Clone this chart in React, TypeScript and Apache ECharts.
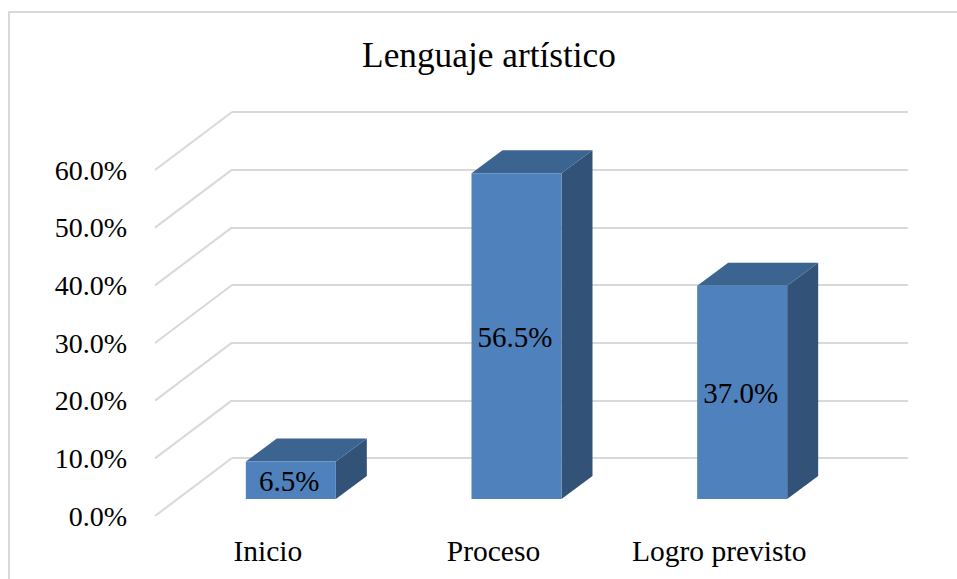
import React, { useEffect, useRef } from "react";
import * as echarts from "echarts";

const titleText = "Lenguaje artístico";
const categories = ["Inicio", "Proceso", "Logro previsto"];
const values = [6.5, 56.5, 37.0];
const gridTicks = [0, 10, 20, 30, 40, 50, 60];

const FONT = "'Liberation Serif', 'Times New Roman', serif";
const WALL_DX = 77;
const WALL_DY = -58;
const BAR_DX = 23;
const BAR_DY = -17;
const BAR_W = 90;
const DEPTH_DX = 31;
const DEPTH_DY = -23;

export default function App() {
  const ref = useRef<HTMLDivElement>(null);
  useEffect(() => {
    document.body.style.margin = "0";
    const chart = echarts.init(ref.current!, undefined, { renderer: "svg" });
    chart.setOption({
      animation: false,
      backgroundColor: "#ffffff",
      title: {
        text: titleText,
        left: 484,
        top: 33,
        textAlign: "center",
        textStyle: { fontFamily: FONT, fontSize: 35.3, fontWeight: "normal", color: "#000" },
      },
      graphic: [
        {
          type: "polyline",
          silent: true,
          shape: { points: [[9, 579], [9, 12], [957, 12]] },
          style: { stroke: "#d9d9d9", lineWidth: 2, fill: "none" },
        },
      ],
      grid: [
        { left: 155, top: 170, width: 677, height: 346 },
        { left: 232, top: 112, width: 676, height: 346 },
      ],
      xAxis: [
        {
          type: "category",
          gridIndex: 0,
          data: categories,
          axisLine: { show: false },
          axisTick: { show: false },
          axisLabel: { fontFamily: FONT, fontSize: 29.5, color: "#000", margin: 20, interval: 0, hideOverlap: false },
        },
        {
          type: "category",
          gridIndex: 1,
          data: categories,
          axisLine: { show: false },
          axisTick: { show: false },
          axisLabel: { show: false },
        },
      ],
      yAxis: [
        {
          type: "value",
          gridIndex: 0,
          min: 0,
          max: 60,
          interval: 10,
          axisLine: { show: false },
          axisTick: { show: false },
          splitLine: { show: false },
          axisLabel: {
            fontFamily: FONT,
            fontSize: 28,
            color: "#000",
            margin: 28,
            padding: [4, 0, 0, 0],
            formatter: (v: number) => v.toFixed(1) + "%",
          },
        },
        {
          type: "value",
          gridIndex: 1,
          min: 0,
          max: 60,
          interval: 10,
          axisLine: { show: false },
          axisTick: { show: false },
          axisLabel: { show: false },
          splitLine: { show: true, lineStyle: { color: "#d9d9d9", width: 2 } },
        },
      ],
      series: [
        {
          type: "custom",
          name: "wall",
          xAxisIndex: 0,
          yAxisIndex: 0,
          silent: true,
          z: 1,
          data: gridTicks.map((v) => [0, v]),
          renderItem: (params: any, api: any) => {
            const y = api.coord([0, api.value(1)])[1];
            const x = params.coordSys.x;
            return {
              type: "line",
              shape: { x1: x, y1: y, x2: x + WALL_DX, y2: y + WALL_DY },
              style: { stroke: "#d9d9d9", lineWidth: 2 },
            };
          },
        },
        {
          type: "custom",
          name: "bars",
          xAxisIndex: 0,
          yAxisIndex: 0,
          silent: true,
          z: 2,
          data: values.map((v, i) => [i, v]),
          renderItem: (_params: any, api: any) => {
            const val = api.value(1);
            const top = api.coord([api.value(0), val]);
            const base = api.coord([api.value(0), 0]);
            const l = top[0] + BAR_DX - BAR_W / 2;
            const r = l + BAR_W;
            const t = top[1] + BAR_DY;
            const b = base[1] + BAR_DY;
            return {
              type: "group",
              children: [
                {
                  type: "polygon",
                  shape: {
                    points: [
                      [r, t],
                      [r + DEPTH_DX, t + DEPTH_DY],
                      [r + DEPTH_DX, b + DEPTH_DY],
                      [r, b],
                    ],
                  },
                  style: { fill: "#325278" },
                },
                {
                  type: "polygon",
                  shape: {
                    points: [
                      [l, t],
                      [l + DEPTH_DX, t + DEPTH_DY],
                      [r + DEPTH_DX, t + DEPTH_DY],
                      [r, t],
                    ],
                  },
                  style: { fill: "#3c6491" },
                },
                {
                  type: "rect",
                  shape: { x: l, y: t, width: BAR_W, height: b - t },
                  style: { fill: "#4f81bd" },
                },
                {
                  type: "text",
                  style: {
                    x: (l + r) / 2 - 1.5,
                    y: (t + b) / 2 + 1,
                    text: val.toFixed(1) + "%",
                    fontFamily: FONT,
                    fontSize: 29,
                    fill: "#000",
                    align: "center",
                    verticalAlign: "middle",
                  },
                },
              ],
            };
          },
        },
      ],
    });
    return () => chart.dispose();
  }, []);
  return <div ref={ref} style={{ width: 957, height: 579 }} />;
}
